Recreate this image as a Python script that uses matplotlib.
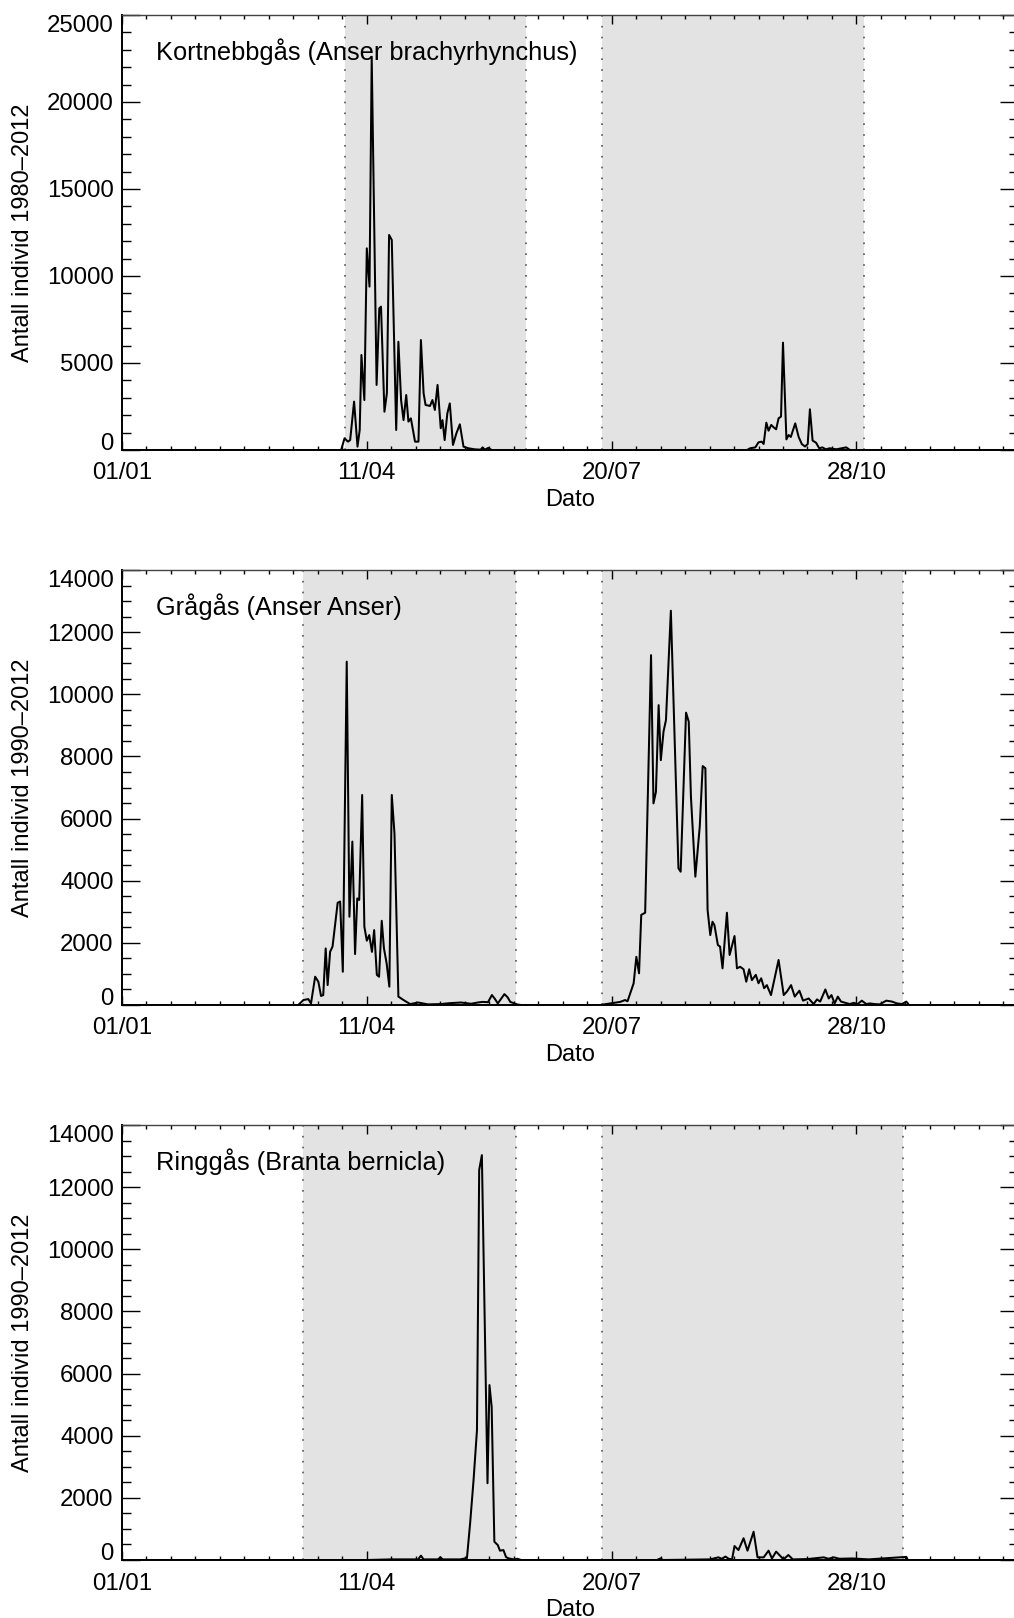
import matplotlib
matplotlib.use("Agg")
import matplotlib.pyplot as plt
from matplotlib.ticker import MultipleLocator, FixedLocator

plt.rcParams['font.family'] = ['Liberation Sans', 'DejaVu Sans']

# ---------------- data ----------------
tick_days = [0, 100, 200, 300]
tick_labels = ['01/01', '11/04', '20/07', '28/10']

titles = ['Kortnebbgås (Anser brachyrhynchus)',
          'Grågås (Anser Anser)',
          'Ringgås (Branta bernicla)']
ylabels = ['Antall individ 1980–2012',
           'Antall individ 1990–2012',
           'Antall individ 1990–2012']

spans1 = [(90.9, 165.1), (196.0, 303.2)]
spans2 = [(74.0, 161.0), (196.0, 319.2)]
spans3 = [(74.0, 161.0), (196.0, 319.2)]

days1 = [0, 89.5, 90.9, 92.3, 93.2, 94.8, 96.2, 97.1, 97.8, 99.0, 100.0,
         101.1, 102.0, 104.0, 105.1, 105.8, 107.2, 108.2, 109.1, 110.2, 112.0,
         112.9, 114.0, 115.0, 116.1, 117.0, 118.0, 119.7, 121.1, 122.1, 123.2,
         124.0, 125.8, 126.8, 127.8, 128.9, 130.2, 130.9, 131.8, 132.9, 133.9,
         135.2, 136.6, 138.0, 139.5, 141.5, 144.0, 146.5, 147.3, 148.2, 149.6,
         151.0,
         255.3, 256.6, 258.7, 260.0, 261.3, 262.1, 263.2, 264.1, 265.2, 266.2,
         267.2, 268.2, 269.2, 270.0, 271.4, 272.3, 273.2, 275.0, 276.4, 277.7,
         279.0, 280.1, 281.0, 282.1, 283.5, 284.8, 286.1, 287.5, 289.1, 291.8,
         295.8, 297.4, 366]
counts1 = [0, 0, 670, 480, 570, 2780, 190, 1150, 5460, 2870, 11590,
           9390, 22600, 3740, 8140, 8240, 2200, 3270, 12360, 12070, 1150,
           6220, 2870, 1720, 3160, 1630, 1820, 480, 480, 6320, 3260,
           2590, 2530, 2870, 2300, 3740, 1250, 1720, 570, 2110, 2680,
           290, 960, 1475, 190, 100, 40, 20, 150, 20, 120,
           0,
           0, 100, 150, 440, 480, 345, 1570, 1110, 1440, 1300,
           1190, 1820, 1920, 6170, 610, 860, 750, 1530, 750, 340,
           200, 340, 2340, 540, 420, 100, 150, 40, 100, 40,
           150, 0, 0]

days2 = [0, 72.0, 74.1, 76.1, 77.2, 78.9, 80.2, 81.3, 82.2, 83.2, 84.0,
         85.0, 86.0, 88.1, 89.1, 90.2, 91.8, 92.9, 94.1, 95.2, 96.1,
         96.9, 98.1, 99.0, 100.0, 101.0, 102.1, 103.0, 104.1, 105.0, 106.1,
         107.0, 108.1, 109.2, 110.2, 111.3, 112.9, 115.0, 117.7, 121.0, 125.0,
         130.0, 134.0, 138.5, 142.6, 145.3, 147.3, 149.5, 151.1, 152.3, 153.5,
         156.2, 157.5, 158.6, 161.3, 163.0,
         195.3, 199.4, 203.5, 205.5, 206.5, 207.6, 209.0, 210.1, 211.2, 212.1,
         213.7, 216.1, 217.1, 218.1, 219.2, 220.1, 221.2, 222.2, 224.2, 227.3,
         228.2, 230.4, 231.5, 232.4, 234.2, 236.0, 237.2, 238.3, 239.2, 240.3,
         241.2, 242.0, 243.4, 244.3, 245.3, 247.1, 248.2, 250.2, 251.2, 252.5,
         253.9, 255.0, 256.2, 257.3, 258.9, 260.0, 261.1, 262.3, 263.4, 265.1,
         268.2, 270.3, 271.6, 273.3, 274.8, 276.7, 278.2, 280.5, 282.5, 283.9,
         285.2, 287.3, 288.7, 289.8, 291.1, 292.4, 293.7, 295.5, 297.3, 298.9,
         300.5, 302.2, 304.0, 305.5, 307.5, 309.5, 312.2, 314.5, 316.6, 318.6,
         320.4, 321.5, 366]
counts2 = [0, 0, 160, 190, 50, 910, 750, 290, 320, 1820, 640,
           1710, 1880, 3290, 3330, 1070, 11050, 2840, 5260, 1640, 3430,
           3380, 6760, 2520, 2070, 2250, 1710, 2410, 970, 910, 2710,
           1820, 1340, 590, 6760, 5520, 270, 160, 30, 80, 20,
           30, 60, 80, 40, 80, 100, 90, 320, 200, 50,
           350, 250, 100, 20, 0,
           0, 50, 100, 160, 120, 380, 700, 1550, 1020, 2900,
           2970, 11260, 6490, 6860, 9650, 7880, 8800, 9170, 12690, 4400,
           4290, 9410, 9120, 6700, 4130, 5740, 7690, 7620, 3060, 2250,
           2680, 2570, 1930, 1880, 1180, 2970, 1610, 2220, 1180, 1230,
           1150, 750, 1150, 800, 970, 700, 860, 540, 640, 320,
           1450, 320, 430, 640, 270, 460, 140, 210, 30, 180,
           110, 500, 210, 320, 50, 270, 110, 70, 30, 70,
           30, 140, 30, 50, 30, 20, 140, 110, 50, 30,
           110, 0, 0]

days3 = [0, 100.0, 110.0, 121.0, 122.1, 123.2, 129.2, 130.0, 131.0, 138.1,
         140.9, 142.2, 143.6, 145.0, 145.9, 147.0, 149.3, 150.1, 151.0, 152.1,
         153.5, 154.4, 155.8, 156.9, 158.0, 160.0, 161.5, 163.0,
         195.0, 218.5, 219.9, 221.0, 240.2, 243.6, 245.0, 246.5, 247.8, 249.2,
         250.2, 251.8, 253.9, 255.5, 258.0, 259.6, 262.1, 264.1, 265.5, 267.2,
         268.9, 270.2, 272.2, 274.0, 280.0, 286.7, 288.5, 290.8, 293.0, 298.4,
         305.0, 320.4, 321.0, 366]
counts3 = [0, 0, 20, 20, 140, 20, 20, 90, 20, 20,
           60, 1180, 2570, 4180, 12550, 13030, 2470, 5630, 4930, 590,
           480, 300, 320, 90, 50, 20, 40, 0,
           0, 0, 50, 0, 20, 85, 40, 110, 40, 20,
           450, 320, 700, 300, 910, 85, 85, 300, 50, 270,
           130, 20, 160, 20, 30, 85, 40, 85, 40, 50,
           20, 100, 0, 0]

series = [(days1, counts1, spans1, 25000, 5000, 1000),
          (days2, counts2, spans2, 14000, 2000, 500),
          (days3, counts3, spans3, 14000, 2000, 500)]

# ---------------- figure ----------------
W, H = 1014, 1618
fig = plt.figure(figsize=(W / 100, H / 100), dpi=100)

left_px, right_px = 122, 1018
tops = [15, 570, 1125]
ax_h = 435

for i, (d, c, spans, ymax, ymaj, ymin) in enumerate(series):
    top = tops[i]
    ax = fig.add_axes([left_px / W, 1 - (top + ax_h) / H,
                       (right_px - left_px) / W, ax_h / H])
    for (a, b) in spans:
        ax.axvspan(a, b, color='#e3e3e3', lw=0, zorder=0)
        for xv in (a, b):
            ax.axvline(xv, color='#555555', lw=1.2, linestyle=(0, (1, 5.5)),
                       zorder=1)
    ax.plot(d, c, color='black', lw=1.45, zorder=3)
    ax.set_xlim(0, 366)
    ax.set_ylim(0, ymax)

    ax.xaxis.set_major_locator(FixedLocator(tick_days))
    ax.set_xticklabels(tick_labels)
    ax.xaxis.set_minor_locator(MultipleLocator(10))
    ax.yaxis.set_major_locator(MultipleLocator(ymaj))
    ax.yaxis.set_minor_locator(MultipleLocator(ymin))

    ax.tick_params(axis='both', which='both', direction='in',
                   top=True, right=True, width=1.0, labelsize=17.3,
                   colors='black')
    ax.tick_params(axis='y', which='major', length=13, pad=6)
    ax.tick_params(axis='y', which='minor', length=6.5)
    ax.tick_params(axis='x', which='major', length=6.5, pad=9)
    ax.tick_params(axis='x', which='minor', length=3.2)

    fig.canvas.draw()
    for t in ax.get_yticklabels():
        txt = t.get_text()
        if txt == '0':
            t.set_va('baseline')
        elif txt == str(ymax):
            t.set_va('top')

    for s in ('left', 'bottom', 'right'):
        ax.spines[s].set_linewidth(1.4)
        ax.spines[s].set_color('black')
    ax.spines['top'].set_linewidth(1.0)
    ax.spines['top'].set_color('#444444')

    ax.set_ylabel(ylabels[i], fontsize=17)
    ax.yaxis.set_label_coords(-0.098, 0.5)
    ax.set_xlabel('Dato', fontsize=17, labelpad=3)
    ax.text(0.038, 0.896, titles[i], transform=ax.transAxes,
            fontsize=18.3, ha='left', va='baseline', zorder=5)

fig.savefig('out.png', dpi=100)
